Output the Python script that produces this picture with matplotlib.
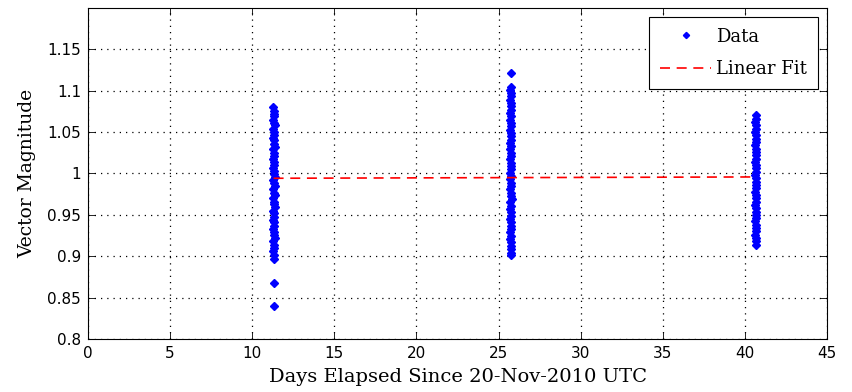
import matplotlib.pyplot as plt

# pass 1 (~11.3 days)
days_1 = [11.28, 11.33, 11.30, 11.35, 11.27, 11.32, 11.36, 11.29, 11.31, 11.34,
          11.28, 11.33, 11.30, 11.36, 11.27, 11.32, 11.35, 11.29, 11.31, 11.34,
          11.28, 11.33, 11.30, 11.36, 11.27, 11.32, 11.38, 11.29, 11.31, 11.39,
          11.28, 11.33, 11.30, 11.38, 11.27, 11.32, 11.35, 11.29, 11.31, 11.34,
          11.28, 11.33, 11.30, 11.36, 11.27, 11.32, 11.35, 11.29, 11.31, 11.33,
          11.31, 11.31]
mag_1 = [1.080, 1.076, 1.072, 1.069, 1.065, 1.061, 1.058, 1.054, 1.050, 1.047,
         1.043, 1.040, 1.036, 1.032, 1.029, 1.025, 1.021, 1.018, 1.014, 1.010,
         1.007, 1.003, 0.999, 0.996, 0.992, 0.988, 0.985, 0.981, 0.977, 0.974,
         0.970, 0.966, 0.963, 0.959, 0.955, 0.952, 0.948, 0.944, 0.941, 0.937,
         0.933, 0.929, 0.926, 0.922, 0.918, 0.914, 0.910, 0.906, 0.902, 0.897,
         0.868, 0.840]

# pass 2 (~25.7 days)
days_2 = [25.74, 25.74, 25.72, 25.77, 25.74, 25.70, 25.76, 25.73, 25.78, 25.71,
          25.75, 25.72, 25.77, 25.74, 25.70, 25.76, 25.73, 25.78, 25.71, 25.75,
          25.72, 25.77, 25.74, 25.70, 25.76, 25.73, 25.78, 25.71, 25.75, 25.72,
          25.77, 25.74, 25.70, 25.76, 25.73, 25.79, 25.71, 25.75, 25.72, 25.77,
          25.74, 25.70, 25.76, 25.73, 25.78, 25.71, 25.75, 25.72, 25.77, 25.74,
          25.76, 25.73, 25.75]
mag_2 = [1.121, 1.105, 1.101, 1.097, 1.093, 1.089, 1.085, 1.081, 1.077, 1.073,
         1.069, 1.065, 1.061, 1.057, 1.053, 1.049, 1.045, 1.041, 1.037, 1.033,
         1.029, 1.025, 1.021, 1.017, 1.013, 1.009, 1.005, 1.001, 0.997, 0.993,
         0.989, 0.985, 0.981, 0.977, 0.973, 0.969, 0.965, 0.961, 0.957, 0.953,
         0.949, 0.945, 0.941, 0.937, 0.933, 0.929, 0.925, 0.921, 0.917, 0.913,
         0.909, 0.904, 0.901]

# pass 3 (~40.7 days)
days_3 = [40.66, 40.69, 40.64, 40.70, 40.66, 40.63, 40.68, 40.65, 40.70, 40.64,
          40.67, 40.65, 40.69, 40.66, 40.63, 40.68, 40.65, 40.70, 40.64, 40.67,
          40.65, 40.69, 40.66, 40.63, 40.68, 40.65, 40.70, 40.64, 40.67, 40.65,
          40.69, 40.66, 40.63, 40.68, 40.65, 40.67, 40.64, 40.66, 40.65, 40.66]
mag_3 = [1.070, 1.066, 1.062, 1.058, 1.054, 1.050, 1.046, 1.042, 1.038, 1.034,
         1.030, 1.026, 1.022, 1.018, 1.014, 1.010, 1.006, 1.002, 0.998, 0.994,
         0.990, 0.986, 0.982, 0.978, 0.974, 0.970, 0.966, 0.962, 0.958, 0.954,
         0.950, 0.946, 0.942, 0.938, 0.934, 0.930, 0.926, 0.922, 0.918, 0.914]

fit_days = [11.3, 40.7]
fit_mag = [0.9942, 0.9958]

xticks = [0, 5, 10, 15, 20, 25, 30, 35, 40, 45]
yticks = [0.8, 0.85, 0.9, 0.95, 1.0, 1.05, 1.1, 1.15]
ytick_labels = ['0.8', '0.85', '0.9', '0.95', '1', '1.05', '1.1', '1.15']

serif = 'DejaVu Serif'

fig = plt.figure(figsize=(8.52, 3.92), dpi=100)
ax = fig.add_axes([0.1033, 0.135, 0.8674, 0.845])

ax.plot(days_1 + days_2 + days_3, mag_1 + mag_2 + mag_3, 'D', color='blue',
        markersize=4.5, markeredgewidth=1.0, label='Data', zorder=2)
ax.plot(fit_days, fit_mag, '--', color='red', linewidth=1.2,
        dashes=(6, 4), label='Linear Fit', zorder=3)

ax.set_xlim(0, 45)
ax.set_ylim(0.8, 1.2)
ax.set_xticks(xticks)
ax.set_yticks(yticks)
ax.set_yticklabels(ytick_labels)
ax.tick_params(direction='in', length=5, labelsize=11, top=True, right=True,
               width=0.6, pad=5)
ax.grid(True, color='black', linestyle=(0, (1, 4)), linewidth=0.9)
for s in ax.spines.values():
    s.set_linewidth(0.8)

ax.set_xlabel('Days Elapsed Since 20-Nov-2010 UTC', family=serif, fontsize=14,
              labelpad=5)
ax.set_ylabel('Vector Magnitude', family=serif, fontsize=13.5, labelpad=8)

leg = ax.legend(loc='upper right', prop={'family': serif, 'size': 13},
                fancybox=False, framealpha=1, edgecolor='black',
                borderaxespad=0.5, handlelength=2.8, borderpad=0.6,
                labelspacing=0.8, markerscale=0.7, handletextpad=0.3)
leg.get_frame().set_linewidth(0.8)

fig.savefig('out.png', dpi=100)
